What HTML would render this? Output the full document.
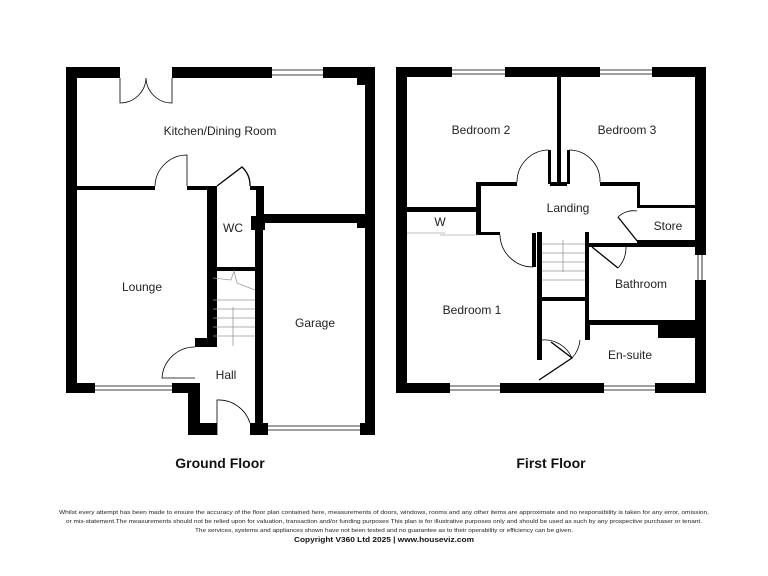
<!DOCTYPE html>
<html><head><meta charset="utf-8"><style>
html,body{margin:0;padding:0;background:#fff;}
svg{display:block;font-family:"Liberation Sans",Arial,sans-serif;}
</style></head><body>
<svg width="768" height="576" viewBox="0 0 768 576" xmlns="http://www.w3.org/2000/svg">
<rect width="768" height="576" fill="#fff"/>
<g fill="#000">
<!-- Ground floor -->
<rect x="66" y="67" width="11" height="326"/>
<rect x="66" y="67" width="54" height="11"/>
<rect x="172" y="67" width="100" height="11"/>
<rect x="323" y="67" width="52" height="11"/>
<rect x="365" y="67" width="10" height="368"/>
<rect x="357" y="78" width="8" height="7"/>
<rect x="77" y="186" width="78" height="4"/>
<rect x="187" y="186" width="30" height="4"/>
<rect x="250" y="186" width="14" height="4"/>
<rect x="256" y="186" width="8" height="29"/>
<rect x="256" y="214" width="119" height="9"/>
<rect x="357" y="214" width="8" height="14"/>
<rect x="212" y="186" width="5" height="161"/>
<rect x="207" y="190" width="6" height="157"/>
<rect x="195" y="338" width="18" height="9"/>
<rect x="212" y="267" width="44" height="4"/>
<rect x="255" y="223" width="8" height="212"/>
<rect x="251" y="216" width="14" height="14"/>
<rect x="360" y="423" width="15" height="12"/>
<rect x="250" y="423" width="18" height="12"/>
<rect x="66" y="383" width="29" height="10"/>
<rect x="172" y="383" width="28" height="10"/>
<rect x="188" y="383" width="12" height="52"/>
<rect x="188" y="423" width="29" height="12"/>
<!-- First floor -->
<rect x="396" y="67" width="11" height="326"/>
<rect x="396" y="67" width="56" height="10"/>
<rect x="505" y="67" width="95" height="10"/>
<rect x="652" y="67" width="54" height="10"/>
<rect x="695" y="67" width="11" height="188"/>
<rect x="695" y="280" width="11" height="113"/>
<rect x="396" y="383" width="54" height="10"/>
<rect x="500" y="383" width="104" height="10"/>
<rect x="655" y="383" width="51" height="10"/>
<rect x="557" y="77" width="4" height="109"/>
<rect x="550" y="182" width="17" height="4"/>
<rect x="476" y="182" width="41" height="4"/>
<rect x="600" y="182" width="40" height="4"/>
<rect x="637" y="182" width="3" height="26"/>
<rect x="640" y="205" width="55" height="3"/>
<rect x="637" y="240" width="58" height="4"/>
<rect x="407" y="207" width="71" height="5"/>
<rect x="476" y="182" width="5" height="53"/>
<rect x="476" y="232" width="24" height="3"/>
<rect x="532" y="233" width="4" height="34"/>
<rect x="537" y="232" width="5" height="128"/>
<rect x="585" y="232" width="4" height="93"/>
<rect x="540" y="297" width="45" height="4"/>
<rect x="585" y="325" width="5" height="15"/>
<rect x="589" y="243" width="106" height="4"/>
<rect x="589" y="320" width="106" height="5"/>
<rect x="658" y="325" width="37" height="13"/>
<rect x="548" y="150" width="3" height="34"/>
<rect x="567" y="150" width="3" height="34"/>
</g>
<g fill="none" stroke="#000" stroke-width="0.8">
<path d="M272 70H323M272 75H323M95 386H172M95 390H172M268 426H360M268 430H360"/>
<path d="M452 70H505M452 74H505M600 70H652M600 74H652M450 386H500M450 390H500M604 386H655M604 390H655M698 255V280M702 255V280"/>
<path d="M120 78V103A26 26 0 0 0 146 78M172 78V103A26 26 0 0 1 146 78"/>
<path d="M187 186V155A32 32 0 0 0 155 186"/>
<path d="M217 186L242 167A25 25 0 0 1 250 186" stroke-width="1.3"/>
<path d="M195 347A33 33 0 0 0 162 378H195"/>
<path d="M217 435V400A33 33 0 0 1 250 423"/>
<path d="M549 150A32 32 0 0 0 517 182"/>
<path d="M569 150A31 31 0 0 1 600 182"/>
<path d="M500 235A33 33 0 0 0 533 267"/>
<path d="M618 217A22 22 0 0 1 637 211"/>
<path d="M618 217L638 242" stroke-width="1.3"/>
<path d="M592 247L618 268" stroke-width="1.3"/>
<path d="M618 268A30 30 0 0 0 626 247"/>
<path d="M551 342L572 358L539 380" stroke-width="1.3"/>
<path d="M542 340A30 30 0 0 1 572 358M580 340A30 30 0 0 1 572 358"/>
<path d="M407 233H445M440 235H478" stroke="#aaa"/>
<g stroke="#999">
<path d="M213 278L231 280L234 271L237 283L255 290M213 300H255M213 309H255M213 318H255M213 327H255M213 336H255M233 307V346"/>
<path d="M542 244H585M542 253H585M542 262H585M542 271H585M542 280H585M563 240V272"/>
</g>
</g>
<g font-size="12" fill="#222" text-anchor="middle">
<text x="220" y="135">Kitchen/Dining Room</text>
<text x="142" y="291">Lounge</text>
<text x="233" y="232">WC</text>
<text x="315" y="327">Garage</text>
<text x="226" y="379">Hall</text>
<text x="481" y="134">Bedroom 2</text>
<text x="627" y="134">Bedroom 3</text>
<text x="568" y="212">Landing</text>
<text x="668" y="230">Store</text>
<text x="440" y="226">W</text>
<text x="641" y="288">Bathroom</text>
<text x="472" y="314">Bedroom 1</text>
<text x="630" y="359">En-suite</text>
</g>
<g font-size="14" font-weight="bold" text-anchor="middle" fill="#111">
<text x="220" y="468">Ground Floor</text>
<text x="551" y="468">First Floor</text>
</g>
<g font-size="5.5" fill="#222" text-anchor="middle">
<text x="384" y="514" textLength="650" lengthAdjust="spacingAndGlyphs">Whilst every attempt has been made to ensure the accuracy of the floor plan contained here, measurements of doors, windows, rooms and any other items are approximate and no responsibility is taken for any error, omission,</text>
<text x="384" y="523" textLength="636" lengthAdjust="spacingAndGlyphs">or mis-statement.The measurements should not be relied upon for valuation, transaction and/or funding purposes This plan is for illustrative purposes only and should be used as such by any prospective purchaser or tenant.</text>
<text x="384" y="532" textLength="378" lengthAdjust="spacingAndGlyphs">The services, systems and appliances shown have not been tested and no guarantee as to their operability or efficiency can be given.</text>
<text x="384" y="542" font-size="7" font-weight="bold" fill="#111" textLength="180" lengthAdjust="spacingAndGlyphs">Copyright V360 Ltd 2025 | www.houseviz.com</text>
</g>
</svg>
</body></html>
